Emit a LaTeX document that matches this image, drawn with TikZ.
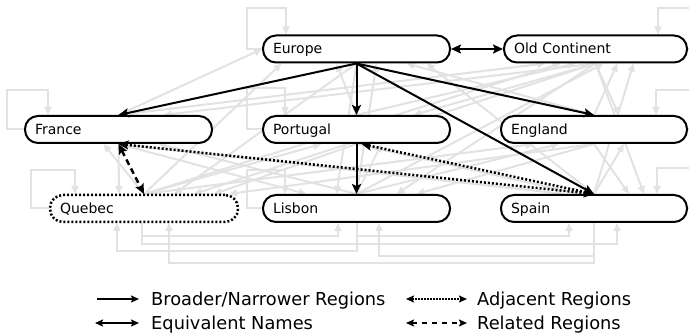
\documentclass[tikz,border=0pt]{standalone}
\usepackage{fontspec}
\setmainfont{DejaVu Sans}
\usetikzlibrary{arrows.meta}

\definecolor{faint}{HTML}{E2E2E2}

\tikzset{
  bigtip/.tip={Stealth[length=10pt,width=9pt,inset=2pt]},
  smalltip/.tip={Stealth[length=8pt,width=7pt,inset=1.5pt]},
}

\begin{document}
\begin{tikzpicture}[x=1pt,y=-1pt,
  region/.style={draw=black, line width=2pt, fill=white, rounded corners=13pt,
    minimum height=27pt, text width=#1, inner xsep=10pt, inner ysep=0pt,
    text height=13pt, text depth=3pt, align=left,
    font=\fontsize{14}{16}\selectfont},
  tentative/.style={dash pattern=on 2pt off 2pt},
  link/.style={draw=faint, line width=2pt, -{Triangle[length=8pt,width=7pt]}},
  broader/.style={draw=black, line width=2pt, -{bigtip}},
  equiv/.style={draw=black, line width=2pt, {bigtip}-{bigtip}},
  adjacent/.style={draw=black, line width=2.5pt, dash pattern=on 2pt off 2pt, {bigtip}-{bigtip}},
  related/.style={draw=black, line width=2.5pt, dash pattern=on 6pt off 4pt, {bigtip}-{bigtip}},
  keytext/.style={anchor=base west, inner sep=0pt, font=\fontsize{17.8}{20}\selectfont},
]
\useasboundingbox (0,0) rectangle (689,336);

% ---------- region boxes (invisible placeholders so the anchors exist) ----------
\path
  (356.5,49)  node[region=167pt, draw=none, fill=none] (eu) {\phantom{X}}
  (595.5,49)  node[region=163pt, draw=none, fill=none] (oc) {\phantom{X}}
  (118.5,129.5) node[region=167pt, draw=none, fill=none] (fr) {\phantom{X}}
  (356.5,129.5) node[region=167pt, draw=none, fill=none] (pt) {\phantom{X}}
  (594,129.5) node[region=166pt, draw=none, fill=none] (en) {\phantom{X}}
  (144,208.5) node[region=168pt, draw=none, fill=none] (qc) {\phantom{X}}
  (356.5,208.5) node[region=167pt, draw=none, fill=none] (li) {\phantom{X}}
  (594,208.5) node[region=166pt, draw=none, fill=none] (sp) {\phantom{X}};

% ---------- candidate relations (grey) ----------
% downward
\draw[link] (eu.south) -- ([xshift=30pt]qc.north);
\draw[link] (eu.south) -- ([xshift=-20pt]li.north);
\draw[link] (oc.south) -- ([xshift=45pt]fr.north);
\draw[link] (oc.south) -- ([xshift=57pt]pt.north);
\draw[link] (oc.south) -- ([xshift=25pt]en.north);
\draw[link] (oc.south) -- ([xshift=50pt]qc.north);
\draw[link] (oc.south) -- ([xshift=40pt]li.north);
\draw[link] (oc.south) -- ([xshift=50pt]sp.north);
\draw[link] (fr.south) -- ([xshift=-25pt]qc.north);
\draw[link] (fr.south) -- ([xshift=-50pt]li.north);
\draw[link] (fr.south) -- ([xshift=-30pt]sp.north);
\draw[link] (pt.south) -- ([xshift=70pt]qc.north);
\draw[link] (pt.south) -- ([xshift=-15pt]sp.north);
\draw[link] (en.south) -- ([xshift=85pt]qc.north);
\draw[link] (en.south) -- ([xshift=60pt]li.north);
\draw[link] (en.south) -- ([xshift=35pt]sp.north);
% upward
\draw[link] (fr.north) -- (eu.west);
\draw[link] (pt.north) -- ([xshift=-20pt]eu.south);
\draw[link] (en.north) -- ([xshift=50pt]eu.south);
\draw[link] (qc.north) -- ([xshift=-75pt]eu.south);
\draw[link] (li.north) -- ([xshift=20pt]eu.south);
\draw[link] (sp.north) -- ([xshift=70pt]eu.south);
\draw[link] (fr.north) -- ([xshift=-50pt]oc.south);
\draw[link] (qc.north) -- ([xshift=-35pt]oc.south);
\draw[link] (pt.north) -- ([xshift=-20pt]oc.south);
\draw[link] (li.north) -- ([xshift=8pt]oc.south);
\draw[link] (en.north) -- ([xshift=22pt]oc.south);
\draw[link] (sp.north) -- ([xshift=38pt]oc.south);
\draw[link] (qc.north) -- ([xshift=-15pt]fr.south);
\draw[link] (li.north) -- ([xshift=40pt]fr.south);
\draw[link] (qc.north) -- ([xshift=-35pt]pt.south);
\draw[link] (li.north) -- ([xshift=25pt]pt.south);
\draw[link] (qc.north) -- ([xshift=-60pt]en.south);
\draw[link] (li.north) -- ([xshift=-35pt]en.south);
\draw[link] (sp.north) -- ([xshift=30pt]en.south);
% self references
\draw[link] (eu.west) -- ++(-15,0) -- ++(0,-41) -| ([xshift=-70.5pt]eu.north);
\draw[link] (fr.west) -- ++(-17,0) -- ++(0,-39.5) -| ([xshift=-70.5pt]fr.north);
\draw[link] (qc.west) -- ++(-18,0) -- ++(0,-38.5) -| ([xshift=-69pt]qc.north);
\draw[link] (pt.west) -- ++(-15,0) -- ++(0,-41.5) -| ([xshift=-71.5pt]pt.north);
\draw[link] (li.west) -- ++(-15,0) -- ++(0,-38.5) -| ([xshift=-71.5pt]li.north);
\draw[link] (oc.east) -- ++(15,0) -- ++(0,-41) -| ([xshift=62.5pt]oc.north);
\draw[link] (en.east) -- ++(15,0) -- ++(0,-39.5) -| ([xshift=62pt]en.north);
\draw[link] (sp.east) -- ++(15,0) -- ++(0,-40.5) -| ([xshift=63pt]sp.north);
% lower row, routed underneath
\draw[link] ([xshift=-2pt]qc.south) -- ++(0,13) -| ([xshift=-18.5pt]li.south);
\draw[link] (li.south) -- ++(0,13) -| ([xshift=-25pt]sp.south);
\draw[link] ([xshift=-2pt]qc.south) -- ++(0,21) -| ([xshift=23pt]sp.south);
\draw[link] (li.south) -- ++(0,28) -| ([xshift=-27pt]qc.south);
\draw[link] (sp.south) -- ++(0,33) -| ([xshift=22.5pt]li.south);
\draw[link] (sp.south) -- ++(0,40) -| ([xshift=25pt]qc.south);

% ---------- region boxes with labels ----------
\node[region=167pt] at (eu) {Europe};
\node[region=163pt] at (oc) {Old Continent};
\node[region=167pt] at (fr) {France};
\node[region=167pt] at (pt) {Portugal};
\node[region=166pt] at (en) {England};
\node[region=168pt, line width=2.5pt, tentative] at (qc) {Quebec};
\node[region=167pt] at (li) {Lisbon};
\node[region=166pt] at (sp) {Spain};

% ---------- confirmed relations ----------
\draw[broader] (eu.south) -- (fr.north);
\draw[broader] (eu.south) -- (pt.north);
\draw[broader] (eu.south) -- (en.north);
\draw[broader] (eu.south) -- (sp.north);
\draw[broader] (pt.south) -- (li.north);
\draw[equiv] (eu.east) -- (oc.west);
\draw[adjacent] (fr.south) -- (sp.north);
\draw[adjacent] ([xshift=5pt]pt.south) -- (sp.north);
\draw[related] (fr.south) -- (qc.north);

% ---------- key ----------
\coordinate (k1a) at (97,299);  \coordinate (k1b) at (139,299);
\coordinate (k2a) at (95,323);  \coordinate (k2b) at (139,323);
\coordinate (k3a) at (406,299); \coordinate (k3b) at (467,299);
\coordinate (k4a) at (406,323); \coordinate (k4b) at (467,323);
\draw[line width=2pt, -{smalltip}] (k1a) -- (k1b);
\draw[line width=2pt, {smalltip}-{smalltip}] (k2a) -- (k2b);
\draw[line width=2pt, dash pattern=on 1.5pt off 1.5pt, {smalltip}-{smalltip}] (k3a) -- (k3b);
\draw[line width=2pt, dash pattern=on 5pt off 5pt, {smalltip}-{smalltip}] (k4a) -- (k4b);
\node[keytext] (t1) at (151,306) {Broader/Narrower Regions};
\node[keytext] (t2) at (151,330) {Equivalent Names};
\node[keytext] (t3) at (477,306) {Adjacent Regions};
\node[keytext] (t4) at (477,330) {Related Regions};
\end{tikzpicture}
\end{document}
